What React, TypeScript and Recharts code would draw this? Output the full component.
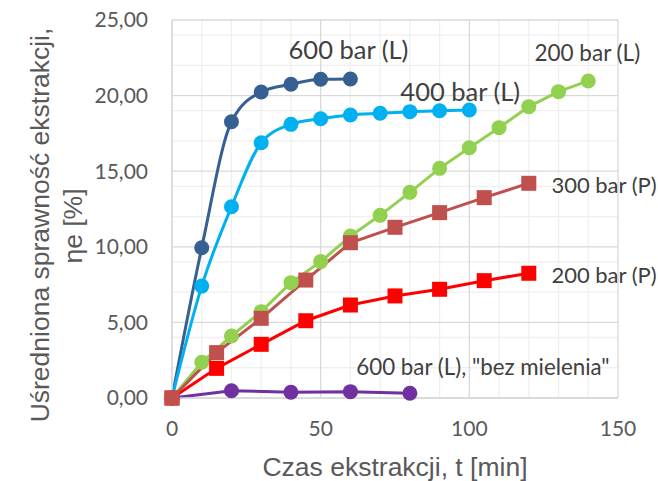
import React from 'react';
import { LineChart, Line, XAxis, YAxis, CartesianGrid, ReferenceDot } from 'recharts';

// ---- data ----
const time600L = [0, 10, 20, 30, 40, 50, 60];
const eta600L = [0, 9.94, 18.27, 20.24, 20.75, 21.08, 21.1];

const time400L = [0, 10, 20, 30, 40, 50, 60, 70, 80, 90, 100];
const eta400L = [0, 7.4, 12.65, 16.88, 18.1, 18.47, 18.72, 18.83, 18.94, 19.0, 19.05];

const time200L = [0, 10, 20, 30, 40, 50, 60, 70, 80, 90, 100, 110, 120, 130, 140];
const eta200L = [0, 2.36, 4.1, 5.71, 7.63, 9.02, 10.71, 12.08, 13.6, 15.19, 16.55, 17.88, 19.27, 20.26, 20.97];

const time300P = [0, 15, 30, 45, 60, 75, 90, 105, 120];
const eta300P = [0, 3.0, 5.27, 7.8, 10.27, 11.29, 12.26, 13.25, 14.2];

const time200P = [0, 15, 30, 45, 60, 75, 90, 105, 120];
const eta200P = [0, 1.96, 3.55, 5.11, 6.15, 6.75, 7.19, 7.76, 8.25];

const time600Lbm = [0, 20, 40, 60, 80];
const eta600Lbm = [0, 0.48, 0.38, 0.42, 0.31];

const xTicks = [0, 50, 100, 150];
const yTicks = [0, 5, 10, 15, 20, 25];
const xMinor = [10, 20, 30, 40, 60, 70, 80, 90, 110, 120, 130, 140];
const yMinor = [1, 2, 3, 4, 6, 7, 8, 9, 11, 12, 13, 14, 16, 17, 18, 19, 21, 22, 23, 24];

// label anchors (data coordinates: left edge, baseline)
const seriesLabels = [
  { text: '600 bar (L)', t: 39.2, eta: 22.42, size: 25.5 },
  { text: '400 bar (L)', t: 76.8, eta: 19.64, size: 25.5 },
  { text: '200 bar (L)', t: 121.9, eta: 22.29, size: 22.5 },
  { text: '300 bar (P)', t: 127.6, eta: 13.56, size: 22 },
  { text: '200 bar (P)', t: 127.6, eta: 7.61, size: 22 },
  { text: '600 bar (L), "bez mielenia"', t: 62.0, eta: 1.52, size: 22.3 },
];

const zip = (ts: number[], vs: number[]) => ts.map((t, i) => ({ t, v: vs[i] }));

const tickFont = 'Lato, "Open Sans", sans-serif';
const titleFont = '"Liberation Sans", Arial, sans-serif';

const SeriesLabel = (props: any) => {
  const { viewBox, text, size } = props;
  const x = viewBox.x + (viewBox.width || 0) / 2;
  const y = viewBox.y + (viewBox.height || 0) / 2;
  return (
    <text x={x} y={y} textAnchor="start" fontFamily={tickFont} fontSize={size} fill="#404040">
      {text}
    </text>
  );
};

const YTitle = (props: any) => {
  const { viewBox } = props;
  const cy = viewBox.y + viewBox.height / 2 + 16;
  const x1 = viewBox.x + 49;
  const x2 = viewBox.x + 82;
  return (
    <g fontFamily={titleFont} fontSize={26.5} fill="#595959">
      <text x={x1} y={cy} textAnchor="middle" transform={`rotate(-90, ${x1}, ${cy})`}>
        Uśredniona sprawność ekstrakcji,
      </text>
      <text x={x2} y={cy + 1} textAnchor="middle" transform={`rotate(-90, ${x2}, ${cy + 1})`}>
        ηe [%]
      </text>
    </g>
  );
};

const XTitle = (props: any) => {
  const { viewBox } = props;
  const x = viewBox.x + viewBox.width / 2;
  const y = viewBox.y + 78;
  return (
    <text x={x} y={y} textAnchor="middle" fontFamily={titleFont} fontSize={26.5} fill="#595959">
      Czas ekstrakcji, t [min]
    </text>
  );
};

const squareDot = (color: string) => (props: any) => {
  const { cx, cy, index } = props;
  if (cx == null || cy == null) return <g key={`sq-${index}`} />;
  return <rect key={`sq-${index}`} x={cx - 7.5} y={cy - 7.5} width={15} height={15} fill={color} />;
};

const circleDot = (color: string) => ({ r: 7.5, fill: color, stroke: color, strokeWidth: 0 });

export default function App() {
  return (
    <div style={{ position: 'absolute', left: 0, top: 0, width: 658, height: 481, background: '#ffffff' }}>
      <LineChart width={658} height={481} margin={{ top: 20, right: 40, bottom: 0, left: 0 }}>
        <CartesianGrid horizontalValues={yMinor} verticalValues={xMinor} stroke="#EFEFEF" strokeWidth={1.3} />
        <CartesianGrid horizontalValues={yTicks} verticalValues={xTicks} stroke="#D9D9D9" strokeWidth={1.3} />
        <XAxis
          type="number"
          dataKey="t"
          domain={[0, 150]}
          ticks={xTicks}
          height={83}
          tickSize={0}
          tickMargin={23}
          axisLine={{ stroke: '#D9D9D9', strokeWidth: 1.3 }}
          tick={{ fontFamily: tickFont, fontSize: 21, fill: '#595959' }}
          label={<XTitle />}
          allowDuplicatedCategory={false}
        />
        <YAxis
          type="number"
          dataKey="v"
          domain={[0, 25]}
          ticks={yTicks}
          width={172}
          tickSize={0}
          tickMargin={24}
          axisLine={{ stroke: '#D9D9D9', strokeWidth: 1.3 }}
          tick={{ fontFamily: tickFont, fontSize: 21, fill: '#595959' }}
          tickFormatter={(v: number) => v.toFixed(2).replace('.', ',')}
          label={<YTitle />}
        />
        <Line data={zip(time600Lbm, eta600Lbm)} dataKey="v" type="linear" stroke="#7030A0" strokeWidth={3}
          dot={circleDot('#7030A0')} activeDot={false} isAnimationActive={false} />
        <Line data={zip(time600L, eta600L)} dataKey="v" type="monotone" stroke="#376092" strokeWidth={3}
          dot={circleDot('#376092')} activeDot={false} isAnimationActive={false} />
        <Line data={zip(time400L, eta400L)} dataKey="v" type="monotone" stroke="#00B0F0" strokeWidth={3}
          dot={circleDot('#00B0F0')} activeDot={false} isAnimationActive={false} />
        <Line data={zip(time200L, eta200L)} dataKey="v" type="linear" stroke="#92D050" strokeWidth={3}
          dot={circleDot('#92D050')} activeDot={false} isAnimationActive={false} />
        <Line data={zip(time200P, eta200P)} dataKey="v" type="linear" stroke="#FF0000" strokeWidth={3}
          dot={squareDot('#FF0000')} activeDot={false} isAnimationActive={false} />
        <Line data={zip(time300P, eta300P)} dataKey="v" type="linear" stroke="#C0504D" strokeWidth={3}
          dot={squareDot('#C0504D')} activeDot={false} isAnimationActive={false} />
        {seriesLabels.map((l) => (
          <ReferenceDot key={l.text} x={l.t} y={l.eta} r={0} fill="none" stroke="none"
            label={<SeriesLabel text={l.text} size={l.size} />} />
        ))}
      </LineChart>
    </div>
  );
}
